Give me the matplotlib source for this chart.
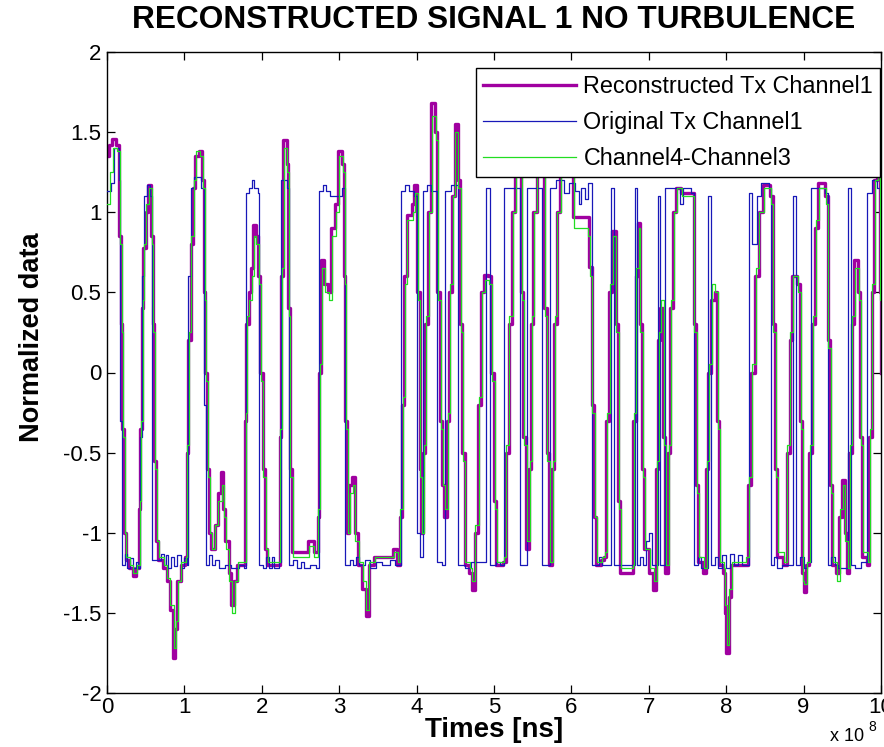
import matplotlib
matplotlib.use("Agg")
import matplotlib.pyplot as plt
import numpy as np

# ---------------- data (time in units of 1e8 ns) ----------------
recon_t = [0.00,0.03,0.07,0.12,0.16,0.18,0.20,0.22,0.24,0.29,0.33,0.38,0.41,0.43,0.45,0.47,0.50,0.53,0.57,0.59,
           0.61,0.63,0.66,0.72,0.77,0.81,0.85,0.88,0.91,0.95,1.01,1.03,1.05,1.08,1.11,1.14,1.19,1.23,1.25,1.27,
           1.29,1.32,1.35,1.39,1.43,1.47,1.50,1.53,1.57,1.60,1.64,1.68,1.76,1.78,1.80,1.83,1.86,1.89,1.92,1.95,
           1.98,2.01,2.04,2.07,2.21,2.23,2.25,2.28,2.32,2.34,2.36,2.39,2.60,2.67,2.72,2.74,2.77,2.81,2.86,2.90,
           2.95,2.99,3.04,3.06,3.08,3.10,3.13,3.17,3.20,3.24,3.30,3.34,3.38,3.45,3.70,3.75,3.78,3.81,3.84,3.87,
           3.94,3.97,4.01,4.04,4.06,4.08,4.11,4.15,4.19,4.24,4.27,4.30,4.33,4.36,4.39,4.42,4.46,4.49,4.53,4.56,
           4.59,4.62,4.68,4.71,4.75,4.79,4.83,4.87,4.92,4.96,5.00,5.03,5.12,5.15,5.19,5.23,5.27,5.32,5.35,5.38,
           5.41,5.45,5.48,5.51,5.55,5.62,5.65,5.68,5.71,5.75,5.78,5.81,5.85,5.97,6.02,6.20,6.23,6.26,6.29,6.32,
           6.38,6.42,6.45,6.49,6.53,6.57,6.60,6.63,6.78,6.80,6.83,6.86,6.88,6.91,6.94,7.00,7.06,7.09,7.12,7.15,
           7.18,7.21,7.25,7.28,7.31,7.35,7.42,7.55,7.58,7.61,7.64,7.70,7.74,7.77,7.81,7.85,7.88,7.91,7.96,7.98,
           8.00,8.03,8.06,8.25,8.28,8.32,8.37,8.42,8.48,8.57,8.60,8.63,8.66,8.74,8.78,8.82,8.85,8.92,8.95,8.98,
           9.00,9.03,9.07,9.11,9.15,9.19,9.28,9.31,9.34,9.37,9.42,9.46,9.50,9.53,9.56,9.59,9.62,9.65,9.70,9.73,
           9.76,9.82,9.85,9.88,9.91,9.95,9.99,10.0]
recon_v = [1.35,1.42,1.46,1.42,0.85,0.30,-0.35,-1.00,-1.17,-1.22,-1.27,-1.22,-0.85,-0.35,0.40,0.78,1.00,1.17,0.85,0.30,
           -0.55,-1.05,-1.17,-1.22,-1.30,-1.48,-1.78,-1.60,-1.30,-1.20,-1.15,-0.50,0.20,0.80,1.15,1.35,1.38,1.20,0.50,0.00,
           -0.60,-1.00,-1.10,-0.95,-0.75,-0.62,-0.85,-1.05,-1.25,-1.45,-1.30,-1.20,-1.20,-0.30,0.30,0.50,0.65,0.92,0.85,0.60,
           0.00,-0.60,-1.10,-1.20,-1.20,-0.40,0.60,1.45,1.30,0.40,-0.60,-1.12,-1.05,-1.12,-0.90,0.00,0.70,0.55,0.50,0.90,
           1.05,1.38,1.30,0.60,-0.30,-1.00,-0.70,-0.65,-1.00,-1.20,-1.35,-1.52,-1.20,-1.15,-1.10,-1.20,-0.90,-0.20,0.60,0.98,
           1.05,1.17,0.50,-0.60,-1.00,-0.50,0.30,1.00,1.68,1.50,0.50,-0.30,-0.70,-0.90,-0.30,0.50,1.10,1.55,1.20,0.30,
           -0.50,-1.20,-1.25,-1.36,-1.00,-0.20,0.50,0.61,0.60,0.00,-0.80,-1.20,-1.18,-0.50,0.30,1.00,1.45,1.40,0.50,-0.40,
           -1.10,-0.60,0.30,1.00,1.40,1.30,0.40,-0.50,-1.20,-0.60,0.30,1.00,1.45,1.40,0.97,0.97,0.66,-0.20,-0.90,-1.20,
           -1.17,-1.15,-0.30,0.50,0.88,0.30,-0.80,-1.25,-1.25,-0.30,0.60,0.93,0.30,-0.60,-1.10,-1.25,-1.36,-0.60,0.20,0.40,
           -0.40,-1.25,-0.50,0.40,1.00,1.15,1.12,1.12,0.30,-0.70,-1.18,-1.25,-0.60,0.00,0.45,0.50,-0.30,-1.20,-1.25,-1.50,
           -1.75,-1.40,-1.20,-1.20,-0.70,0.00,0.60,1.00,1.17,1.10,0.30,-0.60,-1.15,-1.20,-0.50,0.20,0.60,0.55,-0.30,-1.25,
           -1.37,-1.20,-0.50,0.30,0.90,1.18,1.10,0.20,-0.70,-1.20,-1.25,-0.90,-0.67,-1.00,-1.25,-0.50,0.30,0.70,0.50,-0.40,
           -1.15,-1.20,-0.40,0.50,1.20,1.42,0.50,0.00]

orig_t = [0.00,0.05,0.09,0.15,0.17,0.19,0.23,0.26,0.30,0.34,0.37,0.40,0.42,0.45,0.48,0.52,0.56,0.58,0.70,0.73,
          0.76,0.79,0.83,0.87,0.91,0.95,0.99,1.03,1.05,1.08,1.12,1.22,1.25,1.28,1.32,1.36,1.40,1.45,1.52,1.60,
          1.70,1.77,1.79,1.83,1.87,1.90,1.95,1.97,2.02,2.06,2.09,2.13,2.16,2.22,2.25,2.33,2.35,2.40,2.45,2.50,
          2.55,2.62,2.70,2.74,2.79,2.83,2.88,3.04,3.08,3.14,3.18,3.22,3.26,3.33,3.40,3.47,3.55,3.65,3.72,3.80,
          3.85,3.90,3.97,4.00,4.05,4.08,4.13,4.18,4.26,4.33,4.37,4.45,4.54,4.62,4.70,4.90,4.95,5.02,5.08,5.13,
          5.34,5.43,5.62,5.72,5.80,5.90,5.97,6.05,6.10,6.13,6.17,6.21,6.26,6.36,6.40,6.51,6.55,6.62,6.82,6.85,
          6.88,6.92,6.96,7.00,7.04,7.12,7.15,7.21,7.40,7.44,7.55,7.58,7.64,7.68,7.76,7.80,7.85,7.90,7.95,8.00,
          8.05,8.10,8.15,8.21,8.29,8.33,8.40,8.45,8.55,8.58,8.62,8.66,8.72,8.86,8.90,8.95,9.00,9.05,9.10,9.28,
          9.31,9.36,9.40,9.45,9.57,9.61,9.66,9.74,9.82,9.88,9.95,10.0]
orig_v = [1.13,1.18,1.40,1.20,-0.30,-1.20,-1.13,-1.22,-1.16,-1.22,-1.18,-1.22,-0.40,0.60,1.10,1.17,1.10,-1.17,-1.13,-1.20,
          -1.14,-1.22,-1.15,-1.21,-1.14,-1.22,-1.16,-1.20,0.60,1.15,1.22,1.15,-0.20,-1.20,-1.14,-1.20,-1.17,-1.22,-1.20,-1.22,
          -1.20,-1.22,1.12,1.15,1.20,1.15,1.12,-1.20,-1.22,-1.15,-1.22,-1.15,-1.22,-1.18,1.20,1.15,-1.20,-1.17,-1.22,-1.18,
          -1.22,-1.20,-1.22,1.13,1.17,1.13,1.10,1.15,-1.20,-1.17,-1.20,-1.15,-1.20,-1.17,-1.22,-1.18,-1.20,-1.17,-1.20,1.13,
          1.17,1.13,1.10,-1.00,-1.15,1.13,1.17,1.13,-1.18,-1.20,1.13,1.17,-1.20,-1.22,-1.18,1.15,-1.20,-1.18,-1.20,1.15,
          -1.20,1.15,-1.20,1.15,1.20,1.12,1.18,1.13,1.05,1.15,1.08,1.18,-1.20,-1.15,-1.20,1.15,-1.20,-1.20,1.15,-1.20,
          -1.15,-1.20,-1.05,-1.00,-1.20,1.10,-1.20,1.15,1.05,1.15,1.12,-1.20,-1.15,-1.22,1.10,-1.20,-1.15,-1.22,-1.14,-1.22,
          -1.13,-1.20,-1.14,-1.20,1.12,0.80,1.10,1.18,1.15,-1.20,-1.15,-1.22,-1.20,1.10,-1.20,-1.15,-1.22,-1.18,1.15,1.12,
          -1.20,-1.15,-1.20,-1.22,1.15,-1.20,-1.22,-1.18,1.12,1.20,1.15,1.15]

diff_t = [0.00,0.04,0.08,0.13,0.17,0.19,0.21,0.23,0.25,0.30,0.34,0.39,0.42,0.44,0.46,0.48,0.51,0.54,0.58,0.60,
          0.62,0.64,0.67,0.73,0.78,0.82,0.86,0.89,0.92,0.96,1.02,1.04,1.06,1.09,1.12,1.15,1.20,1.24,1.26,1.28,
          1.30,1.33,1.36,1.40,1.44,1.48,1.51,1.54,1.58,1.61,1.65,1.69,1.77,1.79,1.81,1.84,1.87,1.90,1.93,1.96,
          1.99,2.02,2.05,2.08,2.22,2.24,2.26,2.29,2.33,2.35,2.37,2.40,2.61,2.68,2.73,2.75,2.78,2.82,2.87,2.91,
          2.96,3.00,3.05,3.07,3.09,3.11,3.14,3.18,3.21,3.25,3.31,3.35,3.39,3.46,3.71,3.76,3.79,3.82,3.85,3.88,
          3.95,3.98,4.02,4.05,4.07,4.09,4.12,4.16,4.20,4.25,4.28,4.31,4.34,4.37,4.40,4.43,4.47,4.50,4.54,4.57,
          4.60,4.63,4.69,4.72,4.76,4.80,4.84,4.88,4.93,4.97,5.01,5.04,5.13,5.16,5.20,5.24,5.28,5.33,5.36,5.39,
          5.42,5.46,5.49,5.52,5.56,5.63,5.66,5.69,5.72,5.76,5.79,5.82,5.86,5.98,6.03,6.21,6.24,6.27,6.30,6.33,
          6.39,6.43,6.46,6.50,6.54,6.58,6.61,6.64,6.79,6.81,6.84,6.87,6.89,6.92,6.95,7.01,7.07,7.10,7.13,7.16,
          7.19,7.22,7.26,7.29,7.32,7.36,7.43,7.56,7.59,7.62,7.65,7.71,7.75,7.78,7.82,7.86,7.89,7.92,7.97,7.99,
          8.01,8.04,8.07,8.26,8.29,8.33,8.38,8.43,8.49,8.58,8.61,8.64,8.67,8.75,8.79,8.83,8.86,8.93,8.96,8.99,
          9.01,9.04,9.08,9.12,9.16,9.20,9.29,9.32,9.35,9.38,9.43,9.47,9.51,9.54,9.57,9.60,9.63,9.66,9.71,9.74,
          9.77,9.83,9.86,9.89,9.92,9.96,9.99,10.0]
diff_v = [1.05,1.25,1.40,1.38,0.80,0.25,-0.40,-1.00,-1.15,-1.20,-1.25,-1.20,-0.80,-0.30,0.45,0.80,1.05,1.15,0.80,0.25,
          -0.60,-1.05,-1.15,-1.20,-1.28,-1.45,-1.72,-1.55,-1.30,-1.18,-1.15,-0.45,0.25,0.85,1.20,1.38,1.35,1.15,0.45,-0.05,
          -0.65,-1.00,-1.10,-0.95,-0.80,-0.70,-0.90,-1.10,-1.30,-1.50,-1.30,-1.18,-1.18,-0.25,0.35,0.45,0.60,0.85,0.80,0.55,
          -0.05,-0.65,-1.10,-1.18,-1.18,-0.35,0.65,1.40,1.25,0.35,-0.65,-1.15,-1.08,-1.15,-0.85,0.05,0.65,0.50,0.45,0.85,
          1.00,1.35,1.25,0.55,-0.35,-1.00,-0.75,-0.70,-1.05,-1.18,-1.30,-1.48,-1.18,-1.15,-1.12,-1.18,-0.85,-0.15,0.55,0.95,
          1.00,1.12,0.45,-0.65,-1.00,-0.45,0.35,1.00,1.60,1.45,0.45,-0.35,-0.70,-0.85,-0.25,0.55,1.10,1.50,1.15,0.25,
          -0.55,-1.18,-1.22,-1.30,-0.95,-0.15,0.50,0.58,0.55,-0.05,-0.85,-1.18,-1.15,-0.45,0.35,1.00,1.40,1.35,0.45,-0.45,
          -1.05,-0.55,0.35,1.00,1.40,1.25,0.35,-0.55,-1.18,-0.55,0.35,1.00,1.40,1.35,0.90,0.85,0.60,-0.25,-0.90,-1.18,
          -1.15,-1.12,-0.25,0.55,0.85,0.25,-0.85,-1.22,-1.20,-0.25,0.65,0.90,0.25,-0.65,-1.10,-1.22,-1.30,-0.55,0.25,0.45,
          -0.45,-1.20,-0.45,0.45,1.00,1.15,1.10,1.10,0.25,-0.75,-1.15,-1.22,-0.55,0.05,0.55,0.50,-0.35,-1.18,-1.22,-1.45,
          -1.70,-1.35,-1.18,-1.15,-0.65,0.05,0.65,1.00,1.15,1.05,0.25,-0.65,-1.12,-1.18,-0.45,0.25,0.60,0.50,-0.35,-1.30,
          -1.32,-1.18,-0.45,0.35,0.95,1.15,1.05,0.15,-0.75,-1.18,-1.30,-0.85,-0.70,-1.05,-1.22,-0.45,0.35,0.65,0.45,-0.45,
          -1.12,-1.18,-0.35,0.55,1.20,1.40,0.45,0.00]

legend_labels = ["Reconstructed Tx Channel1", "Original Tx Channel1", "Channel4-Channel3"]
x_ticks = list(range(0, 11))
y_ticks = [-2, -1.5, -1, -0.5, 0, 0.5, 1, 1.5, 2]
y_tick_labels = ["-2", "-1.5", "-1", "-0.5", "0", "0.5", "1", "1.5", "2"]

# ---------------- plot ----------------
plt.rcParams['axes.unicode_minus'] = False
main_font = ['Liberation Sans', 'DejaVu Sans']
plt.rcParams['font.family'] = main_font

fig = plt.figure(figsize=(8.84, 7.47), dpi=100)
ax = fig.add_axes([107/884, 1 - 693/747, (881 - 107)/884, (693 - 52)/747])

ax.plot(recon_t, recon_v, drawstyle='steps-post', color='#a000a0', lw=2.4,
        label=legend_labels[0], zorder=2)
ax.plot(orig_t, orig_v, drawstyle='steps-post', color='#1818b8', lw=0.9,
        label=legend_labels[1], zorder=3)
ax.plot(diff_t, diff_v, drawstyle='steps-post', color='#22dd22', lw=0.9,
        label=legend_labels[2], zorder=4)

ax.set_xlim(0, 10)
ax.set_ylim(-2, 2)
ax.set_xticks(x_ticks)
ax.set_xticklabels([str(v) for v in x_ticks])
ax.set_yticks(y_ticks)
ax.set_yticklabels(y_tick_labels)
ax.tick_params(direction='in', top=True, right=True, length=6, width=0.9,
               labelsize=16, pad=4)
ax.tick_params(axis='x', pad=3)
for s in ax.spines.values():
    s.set_linewidth(1.0)

ax.set_title("RECONSTRUCTED SIGNAL 1 NO TURBULENCE", fontsize=22.8,
             fontweight='bold', pad=17)
ax.set_xlabel("Times [ns]", fontsize=20, fontweight='bold')
ax.xaxis.set_label_coords(0.5, -0.037)
ax.xaxis.label.set_va('top')
ax.set_ylabel("Normalized data", fontsize=19.5, fontweight='bold')
ax.yaxis.label.set_va('center')
ax.yaxis.label.set_ha('center')
ax.yaxis.set_label_coords(-0.097, 0.555)

leg = ax.legend(loc='upper right', bbox_to_anchor=(0.999, 0.975), borderaxespad=0,
                fontsize=16.8, frameon=True, fancybox=False, framealpha=1,
                edgecolor='black', handlelength=4.0, handletextpad=0.3,
                labelspacing=0.56, borderpad=0.3)
leg.get_frame().set_linewidth(1.0)

fig.text(830/884, 1 - 745/747, "x 10", fontsize=13, ha='left', va='bottom')
fig.text(868/884, 1 - 734/747, "8", fontsize=10, ha='left', va='bottom')

fig.savefig("out.png", dpi=100)
